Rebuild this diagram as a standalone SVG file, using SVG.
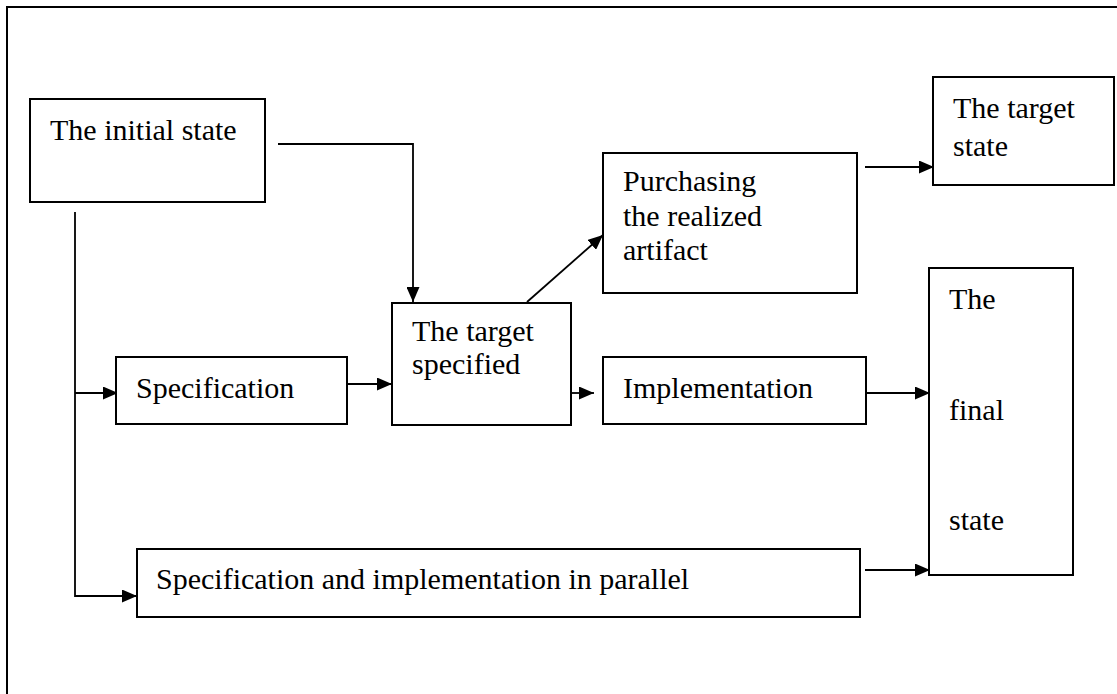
<svg xmlns="http://www.w3.org/2000/svg" width="1117" height="694" viewBox="0 0 1117 694">
<defs>
<style>
.box{fill:#fff;stroke:#000;stroke-width:2}
.t{font-family:"Liberation Serif","Times New Roman",serif;font-size:30px;fill:#000}
.c{fill:none;stroke:#000;stroke-width:1.8}
</style>
<marker id="ah" markerUnits="userSpaceOnUse" markerWidth="15" markerHeight="13" refX="15" refY="6.5" orient="auto">
<path d="M0,0 L15,6.5 L0,13 Z" fill="#000"/>
</marker>
</defs>
<rect x="7" y="7" width="1200" height="800" fill="#fff" stroke="#000" stroke-width="2"/>
<g id="connectors">
<polyline class="c" points="278,144 413,144 413,302" marker-end="url(#ah)"/>
<polyline class="c" points="75,212 75,596 137,596" marker-end="url(#ah)"/>
<line class="c" x1="75" y1="393" x2="118" y2="393" marker-end="url(#ah)"/>
<line class="c" x1="347" y1="384" x2="392" y2="384" marker-end="url(#ah)"/>
<line class="c" x1="527" y1="302" x2="603" y2="235" marker-end="url(#ah)"/>
<line class="c" x1="571" y1="393" x2="594" y2="393" marker-end="url(#ah)"/>
<line class="c" x1="865" y1="167" x2="934" y2="167" marker-end="url(#ah)"/>
<line class="c" x1="866" y1="393" x2="930" y2="393" marker-end="url(#ah)"/>
<line class="c" x1="865" y1="570" x2="930" y2="570" marker-end="url(#ah)"/>
</g>
<g id="initial">
<rect class="box" x="30" y="99" width="235" height="103"/>
<text class="t" x="50" y="140">The initial state</text>
</g>
<g id="spec">
<rect class="box" x="116" y="357" width="231" height="67"/>
<text class="t" x="136" y="398">Specification</text>
</g>
<g id="target-specified">
<rect class="box" x="392" y="303" width="179" height="122"/>
<text class="t" x="412" y="341">The target</text>
<text class="t" x="412" y="374">specified</text>
</g>
<g id="purchasing">
<rect class="box" x="603" y="153" width="254" height="140"/>
<text class="t" x="623" y="191">Purchasing</text>
<text class="t" x="623" y="226">the realized</text>
<text class="t" x="623" y="260">artifact</text>
</g>
<g id="target-state">
<rect class="box" x="933" y="77" width="181" height="108"/>
<text class="t" x="953" y="118">The target</text>
<text class="t" x="953" y="156">state</text>
</g>
<g id="implementation">
<rect class="box" x="603" y="357" width="263" height="67"/>
<text class="t" x="623" y="398">Implementation</text>
</g>
<g id="final-state">
<rect class="box" x="929" y="268" width="144" height="307"/>
<text class="t" x="949" y="309">The</text>
<text class="t" x="949" y="420">final</text>
<text class="t" x="949" y="530">state</text>
</g>
<g id="parallel">
<rect class="box" x="137" y="549" width="723" height="68"/>
<text class="t" x="156" y="589">Specification and implementation in parallel</text>
</g>
</svg>
